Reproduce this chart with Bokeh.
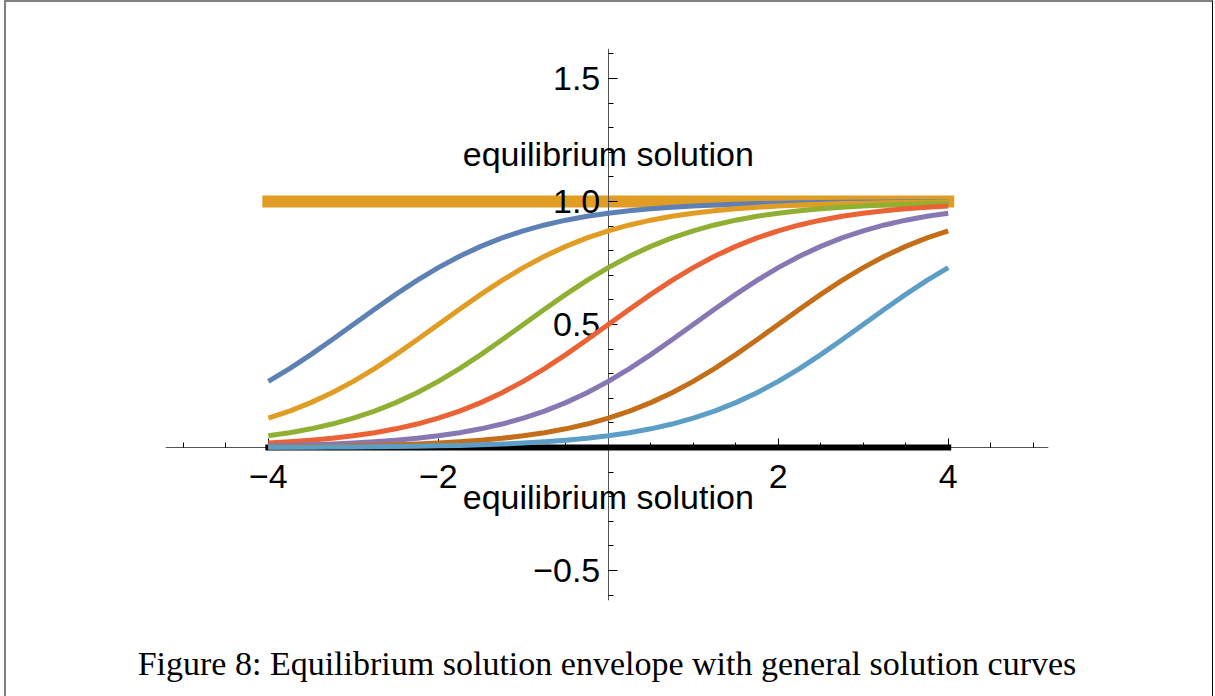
from bokeh.plotting import figure
from bokeh.models import FixedTicker, Label, Range1d, Title, InlineStyleSheet
from bokeh.embed import file_html
from bokeh.resources import INLINE
import numpy as np

# sample points along x
x_vals = [-4.0, -3.75, -3.5, -3.25, -3.0, -2.75, -2.5, -2.25, -2.0, -1.75, -1.5,
          -1.25, -1.0, -0.75, -0.5, -0.25, 0.0, 0.25, 0.5, 0.75, 1.0, 1.25,
          1.5, 1.75, 2.0, 2.25, 2.5, 2.75, 3.0, 3.25, 3.5, 3.75, 4.0]

# general solution curves (one list per curve)
curve_a = [.2689, .3208, .3775, .4378, .5000, .5622, .6225, .6792, .7311, .7773,
           .8176, .8520, .8808, .9047, .9241, .9399, .9526, .9627, .9707, .9770,
           .9820, .9859, .9890, .9914, .9933, .9948, .9959, .9968, .9975, .9981,
           .9985, .9988, .9991]
curve_b = [.1192, .1480, .1824, .2227, .2689, .3208, .3775, .4378, .5000, .5622,
           .6225, .6792, .7311, .7773, .8176, .8520, .8808, .9047, .9241, .9399,
           .9526, .9627, .9707, .9770, .9820, .9859, .9890, .9914, .9933, .9948,
           .9959, .9968, .9975]
curve_c = [.0474, .0601, .0759, .0953, .1192, .1480, .1824, .2227, .2689, .3208,
           .3775, .4378, .5000, .5622, .6225, .6792, .7311, .7773, .8176, .8520,
           .8808, .9047, .9241, .9399, .9526, .9627, .9707, .9770, .9820, .9859,
           .9890, .9914, .9933]
curve_d = [.0180, .0230, .0293, .0373, .0474, .0601, .0759, .0953, .1192, .1480,
           .1824, .2227, .2689, .3208, .3775, .4378, .5000, .5622, .6225, .6792,
           .7311, .7773, .8176, .8520, .8808, .9047, .9241, .9399, .9526, .9627,
           .9707, .9770, .9820]
curve_e = [.0067, .0086, .0110, .0141, .0180, .0230, .0293, .0373, .0474, .0601,
           .0759, .0953, .1192, .1480, .1824, .2227, .2689, .3208, .3775, .4378,
           .5000, .5622, .6225, .6792, .7311, .7773, .8176, .8520, .8808, .9047,
           .9241, .9399, .9526]
curve_f = [.0025, .0032, .0041, .0052, .0067, .0086, .0110, .0141, .0180, .0230,
           .0293, .0373, .0474, .0601, .0759, .0953, .1192, .1480, .1824, .2227,
           .2689, .3208, .3775, .4378, .5000, .5622, .6225, .6792, .7311, .7773,
           .8176, .8520, .8808]
curve_g = [.0009, .0012, .0015, .0019, .0025, .0032, .0041, .0052, .0067, .0086,
           .0110, .0141, .0180, .0230, .0293, .0373, .0474, .0601, .0759, .0953,
           .1192, .1480, .1824, .2227, .2689, .3208, .3775, .4378, .5000, .5622,
           .6225, .6792, .7311]

curves = [curve_a, curve_b, curve_c, curve_d, curve_e, curve_f, curve_g]
curve_colors = ["#5E81B5", "#E19C24", "#8FB032", "#EB6235",
                "#8778B3", "#C56E1A", "#5D9EC7"]

# equilibrium solutions
eq_x = [-4.0, 4.0]
eq_upper = [1.0, 1.0]
eq_lower = [0.0, 0.0]

x_major = [-4, -2, 0, 2, 4]
y_major = [-0.5, 0.0, 0.5, 1.0, 1.5]
x_labels = {-4: "\u22124", -2: "\u22122", 0: "", 2: "2", 4: "4"}
y_labels = {-0.5: "\u22120.5", 0: "", 0.5: "0.5", 1: "1.0", 1.5: "1.5"}

caption = "Figure 8: Equilibrium solution envelope with general solution curves"
annot = "equilibrium solution"

p = figure(width=1215, height=696, output_backend="svg", toolbar_location=None,
           x_range=Range1d(-5.21, 5.18), y_range=Range1d(-0.622, 1.622),
           min_border_left=165, min_border_right=167,
           min_border_top=48, min_border_bottom=96)
p.background_fill_color = "white"
p.border_fill_color = "white"
p.outline_line_color = None
p.grid.visible = False

# thick equilibrium lines
p.line(eq_x, eq_upper, line_color="#E19C24", line_width=12, line_cap="square")
zero_line = p.line(eq_x, eq_lower, line_color="black", line_width=6,
                   line_cap="square")
zero_line.level = "overlay"

for ys, col in zip(curves, curve_colors):
    r = p.line(x_vals, ys, line_color=col, line_width=5, line_join="round")
    r.level = "overlay"

font = "Liberation Sans"
for ax, major, minor, labels in [
    (p.xaxis[0], x_major, list(np.round(np.arange(-5, 5.01, 0.5), 2)), x_labels),
    (p.yaxis[0], y_major, list(np.round(np.arange(-0.6, 1.61, 0.1), 2)), y_labels),
]:
    ax.fixed_location = 0
    ax.ticker = FixedTicker(ticks=major, minor_ticks=minor)
    ax.major_label_overrides = labels
    ax.axis_line_color = "#555555"
    ax.axis_line_width = 1
    ax.major_tick_line_color = "black"
    ax.minor_tick_line_color = "black"
    ax.major_tick_in = 9
    ax.major_tick_out = 0
    ax.minor_tick_in = 5
    ax.minor_tick_out = 0
    ax.major_label_text_font = font
    ax.major_label_text_font_size = "34px"
    ax.major_label_text_color = "black"

p.xaxis.major_label_standoff = 18
p.yaxis.major_label_standoff = 8

for yy in [1.195, -0.203]:
    p.add_layout(Label(x=0, y=yy, text=annot, text_align="center",
                       text_baseline="middle", text_font=font,
                       text_font_size="34px", text_color="black"))

# blank gap between the axes and the caption
p.add_layout(Title(text=" ", text_font_size="1px", standoff=39), "below")

# figure caption underneath the axes
p.add_layout(Title(text=caption, align="center", text_font="Liberation Serif",
                   text_font_size="34px", text_font_style="normal",
                   text_color="black", standoff=0), "below")

# page frame lines
p.stylesheets = [InlineStyleSheet(css="""
:host { position: relative; }
:host::after {
  content: ""; position: absolute; left: 4px; top: 0px;
  width: 1206px; height: 720px; pointer-events: none; z-index: 50;
  border-top: 2px solid #808080; border-left: 2px solid #808080;
  border-right: 1px solid #000000;
}
""")]

open("out.html", "w").write(file_html(p, INLINE))
